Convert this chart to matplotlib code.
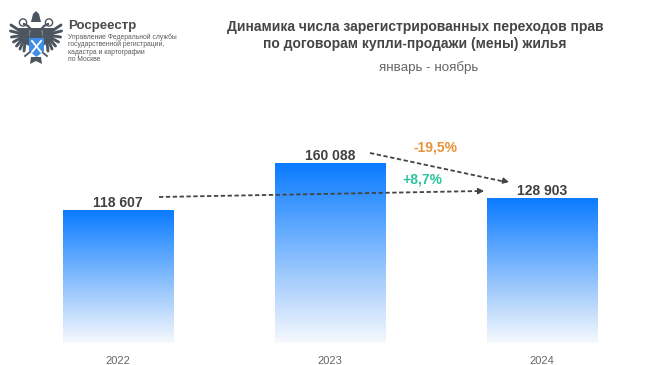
# plot.py
import numpy as np
import matplotlib
matplotlib.use("Agg")
import matplotlib.pyplot as plt
from matplotlib.colors import LinearSegmentedColormap
from matplotlib.patches import Circle, Polygon

years = ["2022", "2023", "2024"]
values = [118607, 160088, 128903]
value_labels = ["118 607", "160 088", "128 903"]

title_lines = ["Динамика числа зарегистрированных переходов прав",
               "по договорам купли-продажи (мены) жилья"]
subtitle = "январь - ноябрь"
logo_name = "Росреестр"
logo_lines = ["Управление Федеральной службы",
              "государственной регистрации,",
              "кадастра и картографии",
              "по Москве"]
change_down = "-19,5%"
change_up = "+8,7%"

W, H = 650, 365
plt.rcParams['font.family'] = ['Liberation Sans', 'DejaVu Sans']

fig = plt.figure(figsize=(W / 100, H / 100), dpi=100, facecolor='white')

# bars: baseline at y=343px, 133px for the first bar
ax = fig.add_axes([0, (H - 343) / H, 1, 343 / H])
cmap = LinearSegmentedColormap.from_list('bar', ['#0a7bff', '#5aa6ff', '#a9cffc', '#f6f9fe'])
grad = np.linspace(0, 1, 200).reshape(-1, 1)
bar_w = 0.52
for i, v in enumerate(values):
    ax.imshow(grad, cmap=cmap, aspect='auto', interpolation='bilinear',
              extent=[i - bar_w / 2, i + bar_w / 2, 0, v], zorder=2)
    ax.text(i, v + 300, value_labels[i], ha='center', va='bottom', fontsize=10,
            fontweight='bold', color='#404040', zorder=4)
    ax.text(i, -16000, years[i], ha='center', va='center', fontsize=8,
            color='#666666', clip_on=False)
ax.set_xlim(-118 / 212, (W - 118) / 212)
ax.set_ylim(0, 343 * 118607 / 133)
ax.axis('off')

# overlay in pixel coords for header, logo and arrows
ov = fig.add_axes([0, 0, 1, 1], facecolor='none')
ov.set_xlim(0, W)
ov.set_ylim(H, 0)
ov.axis('off')
ov.set_zorder(5)

for line, y in zip(title_lines, [27, 44]):
    ov.text(415, y, line, ha='center', va='center', fontsize=10, fontweight='bold', color='#454545')
ov.text(429, 68, subtitle, ha='center', va='center', fontsize=9.6, color='#666666')


def arrow(x0, y0, x1, y1):
    ov.plot([x0, x1], [y0, y1], color='#444444', lw=1.3, ls=(0, (2.4, 1.4)))
    ov.annotate('', xy=(x1 + 3, y1), xytext=(x1 - 3, y1 - (y1 - y0) / (x1 - x0) * 6),
                arrowprops=dict(arrowstyle='-|>,head_width=0.18,head_length=0.35',
                                color='#444444', lw=1, shrinkA=0, shrinkB=0))


arrow(159, 197, 481, 191)
arrow(370, 153, 506, 182)
ov.text(435, 147, change_down, ha='center', va='center', fontsize=10, fontweight='bold', color='#e8923a')
ov.text(422, 179, change_up, ha='center', va='center', fontsize=10, fontweight='bold', color='#2fc4a0')

# logo, drawn by hand
ov.text(68, 26, logo_name, ha='left', va='center', fontsize=9.5, fontweight='bold', color='#4a4a4a')
for line, y in zip(logo_lines, [37, 44.5, 52.5, 59.5]):
    ov.text(68, y, line, ha='left', va='center', fontsize=4.9, color='#5a5a5a')

eagle = '#4d5560'
cx = 36
feather_tips = [(11, 25), (10.5, 31), (11.5, 37), (13.5, 42), (16.5, 46), (20, 49), (24, 51)]
for side in (-1, 1):
    # solid part of the wing next to the body
    ov.add_patch(Polygon([(cx + side * 6, 28), (cx + side * 18, 28), (cx + side * 17, 40), (cx + side * 7, 46)],
                         color=eagle, lw=0))
    for tx, ty in feather_tips:
        ov.plot([cx + side * 10, cx + side * (cx - tx)], [35, ty], color=eagle, lw=2.1, solid_capstyle='round')
    # necks and heads
    ov.plot([cx + side * 3, cx + side * 8, cx + side * 12], [32, 26, 24], color=eagle, lw=1.6)
    ov.add_patch(Circle((cx + side * 13, 22.5), 3.6, fc='none', ec=eagle, lw=1))
    # legs
    ov.plot([cx + side * 6, cx + side * 11], [52, 56], color=eagle, lw=1.3)

# crown
ov.add_patch(Polygon([(31, 22), (33, 14), (36, 11), (39, 14), (41, 22)], color=eagle, lw=0))
# body and tail
ov.add_patch(Polygon([(31, 28), (41, 28), (43, 38), (29, 38)], color=eagle, lw=0))
ov.add_patch(Polygon([(31, 57), (41, 57), (42, 64), (36, 61), (30, 64)], color=eagle, lw=0))
# shield
ov.add_patch(Polygon([(29, 38), (44, 38), (44, 51), (36.5, 57), (29, 51)], color='#3f8fe8', lw=0))
ov.plot([32, 41], [41, 52], color='white', lw=1.3)
ov.plot([41, 32], [41, 52], color='white', lw=1.3)

fig.savefig('out.png', dpi=100)
plt.close(fig)
